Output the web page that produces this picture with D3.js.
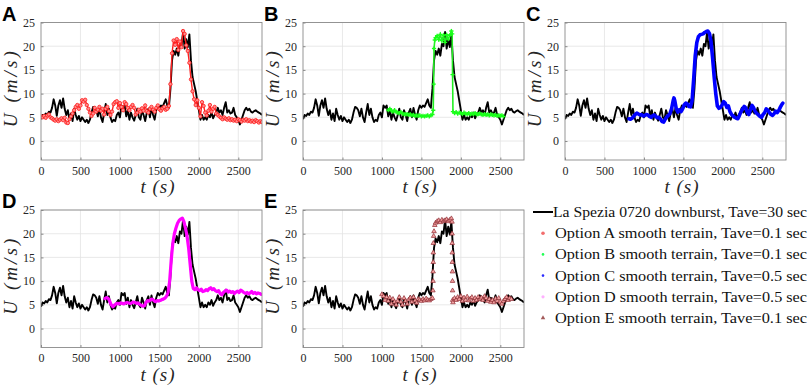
<!DOCTYPE html>
<html>
<head>
<meta charset="utf-8">
<script src="https://cdn.jsdelivr.net/npm/d3@7"></script>
<style>
  body { margin: 0; background: #fff; }
  svg { display: block; }
</style>
</head>
<body>
<div id="chart"></div>
<script>
// La Spezia record (black), sampled every 20 s from t = 0
const blackDt = 20;
const blackU = [
  4.6, 5.5, 5.3, 5.8, 5.5, 6.2, 6.0, 7.0, 8.8, 7.5, 5.3, 7.5, 8.6, 7.0, 9.0, 6.8, 5.5, 6.5, 4.5, 5.8,
  4.2, 6.8, 5.5, 4.5, 5.3, 4.2, 5.0, 4.5, 4.0, 4.5, 3.8, 4.5, 6.0, 7.2, 7.0, 6.5, 5.2, 6.8, 5.0, 4.0,
  6.0, 7.8, 5.5, 6.8, 5.0, 4.0, 4.5, 4.2, 5.5, 6.0, 5.0, 7.5, 7.0, 7.5, 5.2, 6.5, 4.5, 6.0, 5.0, 4.3,
  5.5, 6.8, 5.0, 4.5, 6.5, 5.5, 4.2, 6.0, 6.8, 5.0, 7.0, 5.5, 4.5, 6.5, 7.5, 7.0, 7.5, 7.2, 8.0, 8.8,
  7.5, 7.0, 11.0, 17.0, 19.0, 18.2, 19.5, 18.0, 20.5, 20.0, 23.0, 19.5, 21.5, 19.8, 22.5, 17.0, 13.5, 12.0, 10.5, 8.5,
  6.5, 4.5, 5.5, 4.5, 5.0, 4.5, 5.5, 5.0, 6.0, 4.8, 5.5, 6.0, 7.0, 6.0, 6.5, 5.5, 7.0, 8.2, 6.0, 6.5,
  5.8, 6.0, 7.0, 5.5, 5.0, 4.5, 3.5, 4.5, 5.5, 6.5, 7.0, 6.5, 6.8, 6.2, 6.0, 6.3, 6.5, 6.2, 6.0, 5.8,
  5.5
];

// Option A, sampled every 20 s from t = 0
const optADt = 20;
const optAU = [
  5.2, 5.0, 5.3, 4.9, 5.4, 5.6, 5.0, 4.8, 4.5, 4.3, 4.6, 4.2, 4.5, 4.8, 4.4, 4.9, 3.9, 3.8, 4.6, 5.2,
  5.8, 6.5, 7.2, 7.6, 6.8, 7.5, 8.6, 8.3, 8.7, 7.6, 6.8, 6.0, 5.3, 5.8, 7.0, 6.2, 6.6, 7.2, 6.4, 6.8,
  5.6, 6.8, 7.2, 6.3, 5.5, 6.2, 7.8, 8.2, 8.4, 7.0, 8.0, 7.2, 6.5, 8.2, 7.8, 7.0, 6.5, 7.2, 7.6, 7.0,
  5.6, 6.0, 6.6, 6.2, 6.9, 6.4, 7.5, 6.3, 6.0, 6.8, 7.2, 6.6, 6.2, 7.0, 7.5, 6.7, 6.4, 6.9, 7.2, 6.6,
  6.8, 7.4, 12.0, 18.5, 21.2, 20.3, 21.5, 19.2, 21.0, 19.8, 23.2, 22.6, 20.2, 19.0, 16.5, 13.0, 10.5, 8.8, 7.6, 8.6,
  7.0, 5.2, 8.2, 7.4, 6.0, 5.4, 6.4, 7.6, 6.2, 6.8, 7.2, 5.8, 5.5, 5.2, 4.9, 4.6, 5.0, 4.7, 4.5, 4.8,
  4.4, 4.6, 4.3, 4.5, 4.2, 4.6, 4.4, 4.1, 4.5, 4.3, 4.6, 4.2, 4.4, 4.1, 4.3, 4.0, 4.4, 4.2, 3.9, 4.2,
  4.0
];

// Option B [t, U]
const optB = [
  [1080,6.5],[1100,6.8],[1120,6.4],[1140,6.2],[1160,6.5],[1180,6.1],[1200,6.0],[1220,5.9],[1240,6.1],[1260,5.8],
  [1280,5.7],[1300,5.6],[1320,5.7],[1340,5.5],[1360,5.6],[1380,5.4],[1400,5.5],[1420,5.3],[1440,5.4],[1460,5.3],
  [1480,5.4],[1500,5.2],[1520,5.3],[1540,5.2],[1560,5.3],[1580,5.4],[1600,5.2],[1620,5.4],[1640,5.6],[1650,6.5],
  [1655,12],[1660,19.5],[1670,21.3],[1680,21.8],[1700,22.2],[1720,21.4],[1740,22.5],[1760,21.2],[1780,22.3],[1800,20.8],
  [1820,22.4],[1840,21.5],[1860,22.3],[1880,23.2],[1890,22.6],[1895,14],[1900,6.2],[1920,5.9],[1940,6.1],[1960,5.8],
  [1980,6.0],[2000,5.9],[2020,5.7],[2040,6.0],[2060,5.8],[2080,5.7],[2100,5.9],[2120,5.6],[2140,5.8],[2160,5.7],
  [2180,5.9],[2200,5.6],[2220,5.7],[2240,5.8],[2260,5.6],[2280,5.5],[2300,5.7],[2320,5.5],[2340,5.6],[2360,5.4],
  [2380,5.6],[2400,5.5],[2420,5.4],[2440,5.5],[2460,5.3],[2480,5.4],[2500,5.3],[2520,5.4],[2540,5.2]
];

// Option C [t, U]
const optC = [
  [810,4.7],[830,4.6],[850,4.8],[870,5.2],[890,5.6],[910,5.9],[930,5.7],[950,5.5],[970,5.6],[990,5.3],
  [1010,5.4],[1030,5.6],[1050,5.5],[1070,5.2],[1090,5.0],[1110,5.3],[1130,5.5],[1150,5.2],[1170,4.9],[1190,5.0],
  [1210,4.6],[1230,4.1],[1250,4.0],[1270,4.6],[1290,5.1],[1310,5.4],[1330,5.8],[1350,6.8],[1370,8.5],[1380,9.1],
  [1390,8.6],[1410,6.8],[1430,6.1],[1450,6.6],[1470,6.2],[1490,6.8],[1510,7.6],[1530,8.0],[1550,7.8],[1570,7.3],
  [1590,7.2],[1610,8.5],[1630,13.0],[1650,18.0],[1670,20.8],[1690,22.0],[1710,22.4],[1730,22.5],[1750,22.6],[1770,22.9],
  [1790,23.1],[1810,23.2],[1830,22.7],[1850,21.0],[1870,17.5],[1890,13.5],[1910,10.0],[1930,7.4],[1950,6.9],[1970,7.1],
  [1990,7.6],[2010,8.3],[2030,8.0],[2050,7.1],[2070,7.4],[2090,6.2],[2110,5.6],[2130,5.3],[2150,5.0],[2170,4.8],
  [2190,4.7],[2210,5.4],[2230,6.2],[2250,6.8],[2270,7.3],[2290,7.0],[2310,6.0],[2330,5.6],[2350,6.6],[2370,7.5],
  [2390,7.0],[2410,6.2],[2430,5.8],[2450,5.5],[2470,5.2],[2490,5.0],[2510,5.6],[2530,6.0],[2550,6.8],[2570,6.5],
  [2590,6.0],[2610,5.6],[2630,5.4],[2650,5.8],[2670,6.3],[2690,6.0],[2710,6.5],[2730,7.2],[2750,7.8],[2760,8.0]
];

// Option D [t, U]
const optD = [
  [810,6.3],[830,6.5],[850,6.4],[870,5.8],[890,5.0],[910,4.6],[930,4.9],[950,5.2],[970,5.3],[990,5.2],
  [1010,5.4],[1030,5.3],[1050,5.2],[1070,5.4],[1090,5.5],[1110,5.4],[1130,5.3],[1150,5.4],[1170,5.6],[1190,5.5],
  [1210,5.3],[1230,5.4],[1250,5.1],[1270,4.9],[1290,4.7],[1310,4.8],[1330,5.5],[1350,5.9],[1370,5.8],[1390,6.1],
  [1410,6.2],[1430,5.9],[1450,5.7],[1470,5.9],[1490,5.8],[1510,5.9],[1530,6.1],[1550,6.2],[1570,6.4],[1590,6.8],
  [1610,7.6],[1630,10.0],[1650,14.5],[1670,18.0],[1690,20.0],[1710,21.2],[1730,22.2],[1750,22.8],[1770,23.1],[1790,23.3],
  [1810,22.6],[1830,21.2],[1850,19.5],[1870,17.0],[1890,13.5],[1910,10.0],[1930,8.4],[1950,8.2],[1970,8.6],[1990,8.2],
  [2010,8.0],[2030,8.3],[2050,7.8],[2070,7.9],[2090,8.2],[2110,8.0],[2130,8.4],[2150,8.6],[2170,8.2],[2190,8.4],
  [2210,8.0],[2230,7.8],[2250,8.0],[2270,7.4],[2290,7.1],[2310,7.6],[2330,7.9],[2350,8.1],[2370,7.7],[2390,7.9],
  [2410,7.6],[2430,7.8],[2450,7.4],[2470,7.7],[2490,7.9],[2510,7.6],[2530,8.1],[2550,7.9],[2570,7.6],[2590,7.4],
  [2610,7.6],[2630,7.3],[2650,7.5],[2670,7.8],[2690,7.4],[2710,7.6],[2730,7.3],[2750,7.5],[2770,7.4],[2790,7.2]
];

// Option E [t, U]
const optE = [
  [1000,7.2],[1020,6.8],[1040,6.0],[1060,6.6],[1080,5.8],[1100,6.5],[1120,5.2],[1140,6.2],[1160,5.6],[1180,5.0],
  [1200,5.8],[1220,6.6],[1240,5.6],[1260,5.0],[1280,6.4],[1300,5.8],[1320,5.2],[1340,6.1],[1360,6.5],[1380,5.6],
  [1400,6.6],[1420,5.9],[1440,5.4],[1460,6.2],[1480,6.0],[1500,5.8],[1520,6.2],[1540,5.9],[1560,6.3],[1580,6.0],
  [1600,5.9],[1620,6.2],[1640,6.4],[1646,8],[1648,10],[1649,12],[1650,14],[1651,16],[1652,18],[1655,19.5],
  [1660,20.5],[1670,21.8],[1680,22.3],[1700,22.6],[1720,22.8],[1740,22.4],[1760,22.9],[1780,22.6],[1800,22.8],[1820,23.0],
  [1840,22.6],[1860,22.9],[1880,23.2],[1888,22.5],[1889,20],[1890,18],[1891,16],[1892,14],[1893,12],[1894,10],
  [1895,8],[1896,6],[1900,5.5],[1920,6.4],[1940,6.0],[1960,6.6],[1980,6.2],[2000,6.8],[2020,5.8],[2040,6.5],
  [2060,6.0],[2080,6.7],[2100,5.9],[2120,6.3],[2140,6.6],[2160,5.8],[2180,6.4],[2200,6.0],[2220,6.6],[2240,6.2],
  [2260,6.5],[2280,6.0],[2300,6.8],[2320,6.4],[2340,5.8],[2360,6.2],[2380,5.6],[2400,6.0],[2420,5.5],[2440,6.3],
  [2460,5.8],[2480,6.4],[2500,5.6],[2520,5.2],[2540,5.8],[2560,6.2],[2580,6.6],[2600,6.0],[2620,6.4],[2640,6.2]
];

const xTicks = [0, 500, 1000, 1500, 2000, 2500];
const yTicks = [0, 5, 10, 15, 20, 25];
const panelNames = ["A", "B", "C", "D", "E"];
const legendLabels = [
  "La Spezia 0720 downburst, Tave=30 sec",
  "Option A smooth terrain, Tave=0.1 sec",
  "Option B smooth terrain, Tave=0.1 sec",
  "Option C smooth terrain, Tave=0.5 sec",
  "Option D smooth terrain, Tave=0.5 sec",
  "Option E smooth terrain, Tave=0.1 sec"
];

////////////////////////////////////////////////////////////////////////

const W = 809, H = 388;
const pw = 221, ph = 137.5;
const cols = [41, 303, 565];
const rows = [22.5, 210];
const serif = "'Liberation Serif', 'DejaVu Serif', serif";

const svg = d3.select("#chart").append("svg")
  .attr("width", W).attr("height", H);

const blackPts = blackU.map((u, i) => [i * blackDt, u]);
const optAPts = optAU.map((u, i) => [i * optADt, u]);

const x = d3.scaleLinear().domain([0, 2800]).range([0, pw]);
const y = d3.scaleLinear().domain([-4, 25]).range([ph, 0]);

const line = d3.line().x(d => x(d[0])).y(d => y(d[1]));

function makePanel(px, py, name, drawOption) {
  const g = svg.append("g").attr("transform", `translate(${px},${py})`);

  // grid
  g.append("g").selectAll("line").data(xTicks.slice(1)).enter().append("line")
    .attr("x1", d => x(d)).attr("x2", d => x(d))
    .attr("y1", 0).attr("y2", ph)
    .attr("stroke", "#e3e3e3").attr("stroke-width", 0.8);
  g.append("g").selectAll("line").data(yTicks).enter().append("line")
    .attr("x1", 0).attr("x2", pw)
    .attr("y1", d => y(d)).attr("y2", d => y(d))
    .attr("stroke", "#e3e3e3").attr("stroke-width", 0.8);

  // axes
  const xa = g.append("g").attr("transform", `translate(0,${ph})`)
    .call(d3.axisBottom(x).tickValues(xTicks).tickFormat(d3.format("d"))
      .tickSize(-2.5).tickPadding(6));
  const ya = g.append("g")
    .call(d3.axisLeft(y).tickValues(yTicks).tickSize(-2.5).tickPadding(6));
  [xa, ya].forEach(a => {
    a.attr("font-family", null).attr("font-size", null);
    a.select(".domain").remove();
    a.selectAll("line").attr("stroke", "#8a8a8a");
    a.selectAll("text").attr("fill", "#262626")
      .style("font-family", serif).style("font-size", "12px");
  });

  // data
  const clip = "clip" + name;
  g.append("clipPath").attr("id", clip).append("rect")
    .attr("width", pw).attr("height", ph);
  const dg = g.append("g").attr("clip-path", `url(#${clip})`);

  dg.append("path").datum(blackPts)
    .attr("d", line).attr("fill", "none")
    .attr("stroke", "#000").attr("stroke-width", 1.9)
    .attr("stroke-linejoin", "round");

  drawOption(dg);

  // box
  g.append("rect").attr("width", pw).attr("height", ph)
    .attr("fill", "none").attr("stroke", "#8a8a8a").attr("stroke-width", 0.9);

  // axis labels
  g.append("text")
    .attr("transform", `translate(${-24},${ph / 2 - 2}) rotate(-90)`)
    .attr("text-anchor", "middle")
    .style("font-family", serif).style("font-size", "19px")
    .style("font-style", "italic").attr("fill", "#262626")
    .attr("textLength", 76).attr("lengthAdjust", "spacing")
    .text("U (m/s)");
  g.append("text")
    .attr("x", pw / 2 + 6).attr("y", ph + 33)
    .attr("text-anchor", "middle")
    .style("font-family", serif).style("font-size", "19px")
    .style("font-style", "italic").attr("fill", "#262626")
    .attr("textLength", 34).attr("lengthAdjust", "spacing")
    .text("t (s)");

  // panel letter
  svg.append("text")
    .attr("x", px - 39).attr("y", py - 2)
    .style("font-family", "'Liberation Sans', Arial, sans-serif")
    .style("font-size", "20px").style("font-weight", "bold")
    .text(name);
}

function drawA(g) {
  g.append("path").datum(optAPts).attr("d", line).attr("fill", "none")
    .attr("stroke", "#ff2020").attr("stroke-width", 1.4);
  g.append("g").selectAll("circle").data(optAPts).enter().append("circle")
    .attr("cx", d => x(d[0])).attr("cy", d => y(d[1])).attr("r", 1.7)
    .attr("fill", "#ff8c8c").attr("stroke", "#ff1a1a").attr("stroke-width", 0.8);
}

function drawB(g) {
  g.append("path").datum(optB).attr("d", line).attr("fill", "none")
    .attr("stroke", "#22ee22").attr("stroke-width", 1.6);
  const cross = d3.symbol().type(d3.symbolCross).size(10);
  g.append("g").selectAll("path").data(optB).enter().append("path")
    .attr("transform", d => `translate(${x(d[0])},${y(d[1])})`)
    .attr("d", cross).attr("fill", "#1aff1a");
}

function drawC(g) {
  g.append("path").datum(optC).attr("d", line).attr("fill", "none")
    .attr("stroke", "#0000ff").attr("stroke-width", 3.6)
    .attr("stroke-linejoin", "round").attr("stroke-linecap", "round");
}

function drawD(g) {
  g.append("path").datum(optD).attr("d", line).attr("fill", "none")
    .attr("stroke", "#ff00ff").attr("stroke-width", 3.2)
    .attr("stroke-linejoin", "round").attr("stroke-linecap", "round");
}

const triangle = d3.symbol().type(d3.symbolTriangle).size(9);

function drawE(g) {
  g.append("g").selectAll("path").data(optE).enter().append("path")
    .attr("transform", d => `translate(${x(d[0])},${y(d[1])})`)
    .attr("d", triangle)
    .attr("fill", "#f2a0a0").attr("stroke", "#8e2d33").attr("stroke-width", 0.7);
}

makePanel(cols[0], rows[0], panelNames[0], drawA);
makePanel(cols[1], rows[0], panelNames[1], drawB);
makePanel(cols[2], rows[0], panelNames[2], drawC);
makePanel(cols[0], rows[1], panelNames[3], drawD);
makePanel(cols[1], rows[1], panelNames[4], drawE);

// legend
const lg = svg.append("g").attr("transform", "translate(533,212)");
const rowGap = 21.2;
const legendMarks = [
  g => g.append("line").attr("x1", 0).attr("x2", 20).attr("stroke", "#000").attr("stroke-width", 2),
  g => g.append("circle").attr("cx", 10).attr("r", 1.8).attr("fill", "#f26d6d"),
  g => g.append("circle").attr("cx", 10).attr("r", 1.3).attr("fill", "#22ff55"),
  g => g.append("circle").attr("cx", 10).attr("r", 1.3).attr("fill", "#2a2aff"),
  g => g.append("circle").attr("cx", 10).attr("r", 1.6).attr("fill", "#ffb0ff"),
  g => g.append("path").attr("transform", "translate(10,0)").attr("d", triangle).attr("fill", "#a35a5a")
];
legendLabels.forEach((lab, i) => {
  const r = lg.append("g").attr("transform", `translate(0,${i * rowGap})`);
  legendMarks[i](r);
  r.append("text")
    .attr("x", i === 0 ? 20 : 22).attr("y", 5)
    .style("font-family", serif).style("font-size", "15px").attr("fill", "#111")
    .attr("textLength", i === 0 ? 254 : 252).attr("lengthAdjust", "spacingAndGlyphs")
    .text(lab);
});
</script>
</body>
</html>
